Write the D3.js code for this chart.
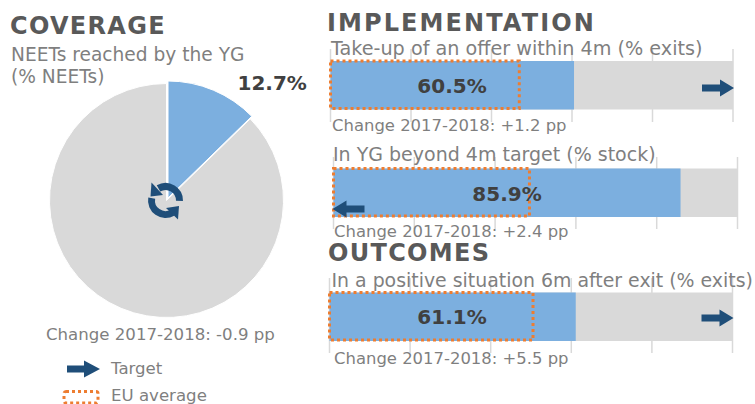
<!DOCTYPE html>
<html><head><meta charset="utf-8">
<script src="https://cdn.jsdelivr.net/npm/d3@7"></script>
<style>html,body{margin:0;padding:0;background:#fff}svg{display:block}text{font-family:"DejaVu Sans",sans-serif}</style>
</head><body><svg id="c" width="755" height="404"></svg>
<script>
const barLabels = ["Take-up of an offer within 4m (% exits)","In YG beyond 4m target (% stock)","In a positive situation 6m after exit (% exits)"];
const barValues = [60.5,85.9,61.1];
const euValues = [46.9,48.5,50.5];
const targetValues = [100,0,100];
const targetDirs = [1,-1,1];
const barChanges = ["Change 2017-2018: +1.2 pp","Change 2017-2018: +2.4 pp","Change 2017-2018: +5.5 pp"];
const coverageValue = [12.7,87.3];
const coverageChange = "Change 2017-2018: -0.9 pp";
const axisTicks = [0,20,40,60,80,100];

const BLUE="#7cafdf",GREY="#d9d9d9",ORANGE="#ed7d31",NAVY="#1f4e79",TITLE="#595959",SUB="#7f7f7f",VAL="#404040",GRID="#d9d9d9";
const svg=d3.select("#c");
function txt(x,y,s,size,color,weight,anchor,ls){
  return svg.append("text").attr("x",x).attr("y",y).attr("font-size",size).attr("fill",color)
    .attr("font-weight",weight||"normal").attr("text-anchor",anchor||"start").attr("letter-spacing",ls||0).text(s);
}
function arrowPath(tipX,y,dir,len,headLen,headH,shaftH){
  const p=d3.path();const d=dir;
  p.moveTo(tipX,y);
  p.lineTo(tipX-d*headLen,y-headH/2);
  p.lineTo(tipX-d*headLen,y-shaftH/2);
  p.lineTo(tipX-d*len,y-shaftH/2);
  p.lineTo(tipX-d*len,y+shaftH/2);
  p.lineTo(tipX-d*headLen,y+shaftH/2);
  p.lineTo(tipX-d*headLen,y+headH/2);
  p.closePath();
  return p.toString();
}

// Pie
const pie=d3.pie().sort(null).value(d=>d)(coverageValue);
const arc=d3.arc().innerRadius(0).outerRadius(117);
svg.append("path").attr("d",arc(pie[1])).attr("transform","translate(166.5,200.5)").attr("fill",GREY).attr("stroke","#fff").attr("stroke-width",1);
svg.append("path").attr("d",arc(pie[0])).attr("transform","translate(168,198)").attr("fill",BLUE).attr("stroke","#fff").attr("stroke-width",1);

// Sync icon
const icon=svg.append("g").attr("transform","translate(165.5,200.5)");
const ring=d3.arc().innerRadius(10.5).outerRadius(17.5);
const rad=a=>a*Math.PI/180;
[[-30,92,[[-14,-18],[-15,-4],[-2.5,-5.5]]],[150,280,[[12.5,19],[13.5,5.5],[0.5,7.5]]]].forEach(([a0,a1,tri])=>{
  icon.append("path").attr("d",ring({startAngle:rad(a0),endAngle:rad(a1)})).attr("fill",NAVY);
  icon.append("path").attr("d",d3.line()(tri)+"Z").attr("fill",NAVY);
});

// Headings
txt(10,34,"COVERAGE",24,TITLE,"bold","start",1.3);
txt(327,31,"IMPLEMENTATION",24,TITLE,"bold","start",2.1);
txt(328,261,"OUTCOMES",24,TITLE,"bold","start",1.3);
txt(11,61,"NEETs reached by the YG",18.6,SUB);
txt(11,83,"(% NEETs)",18.6,SUB);
txt(237.5,90,"12.7%",20,VAL,"bold");
txt(46,340,coverageChange,16.6,SUB);

// Bars
const geo=[
 {x0:330.5,x1:733,y0:61,y1:109.5,tTop:49,tBot:122,ly:55,cy:131,arrow:88,vx:452,vy:93,lx:331,cx:332,ls:19.2},
 {x0:333.5,x1:737.5,y0:168.5,y1:217,tTop:157,tBot:229,ly:161,cy:237,arrow:209,vx:507,vy:201,lx:333,cx:334,ls:19},
 {x0:329.5,x1:732.5,y0:292.5,y1:341,tTop:278,tBot:353,ly:287,cy:364,arrow:318,vx:452,vy:323.5,lx:331.5,cx:334,ls:18.9}
];
barLabels.forEach((label,i)=>{
  const g=geo[i];
  const x=d3.scaleLinear().domain([0,100]).range([g.x0,g.x1]);
  svg.selectAll(null).data(axisTicks).enter().append("line")
    .attr("x1",d=>x(d)).attr("x2",d=>x(d)).attr("y1",g.tTop).attr("y2",g.tBot).attr("stroke",GRID).attr("stroke-width",1.5);
  svg.append("rect").attr("x",x(0)).attr("y",g.y0).attr("width",x(100)-x(0)).attr("height",g.y1-g.y0).attr("fill",GREY);
  svg.append("rect").attr("x",x(0)).attr("y",g.y0).attr("width",x(barValues[i])-x(0)).attr("height",g.y1-g.y0).attr("fill",BLUE);
  svg.append("rect").attr("x",x(0)).attr("y",g.y0).attr("width",x(euValues[i])-x(0)).attr("height",g.y1-g.y0-1)
    .attr("fill","none").attr("stroke",ORANGE).attr("stroke-width",3).attr("stroke-dasharray","3 3");
  svg.append("path").attr("d",arrowPath(x(targetValues[i])+(targetDirs[i]>0?1:-1),g.arrow,targetDirs[i],32,14,17,7)).attr("fill",NAVY);
  txt(g.lx,g.ly,label,g.ls,SUB);
  txt(g.vx,g.vy,barValues[i].toFixed(1)+"%",20,VAL,"bold","middle");
  txt(g.cx,g.cy,barChanges[i],16.45,SUB);
});

// Legend
svg.append("path").attr("d",arrowPath(100,369,1,33,16,17,7)).attr("fill",NAVY);
txt(111,374,"Target",16.6,SUB);
svg.append("rect").attr("x",64).attr("y",391.5).attr("width",34).attr("height",11.5).attr("rx",2)
  .attr("fill","none").attr("stroke",ORANGE).attr("stroke-width",3).attr("stroke-dasharray","3 3");
txt(111,401,"EU average",16.6,SUB);
</script></body></html>
